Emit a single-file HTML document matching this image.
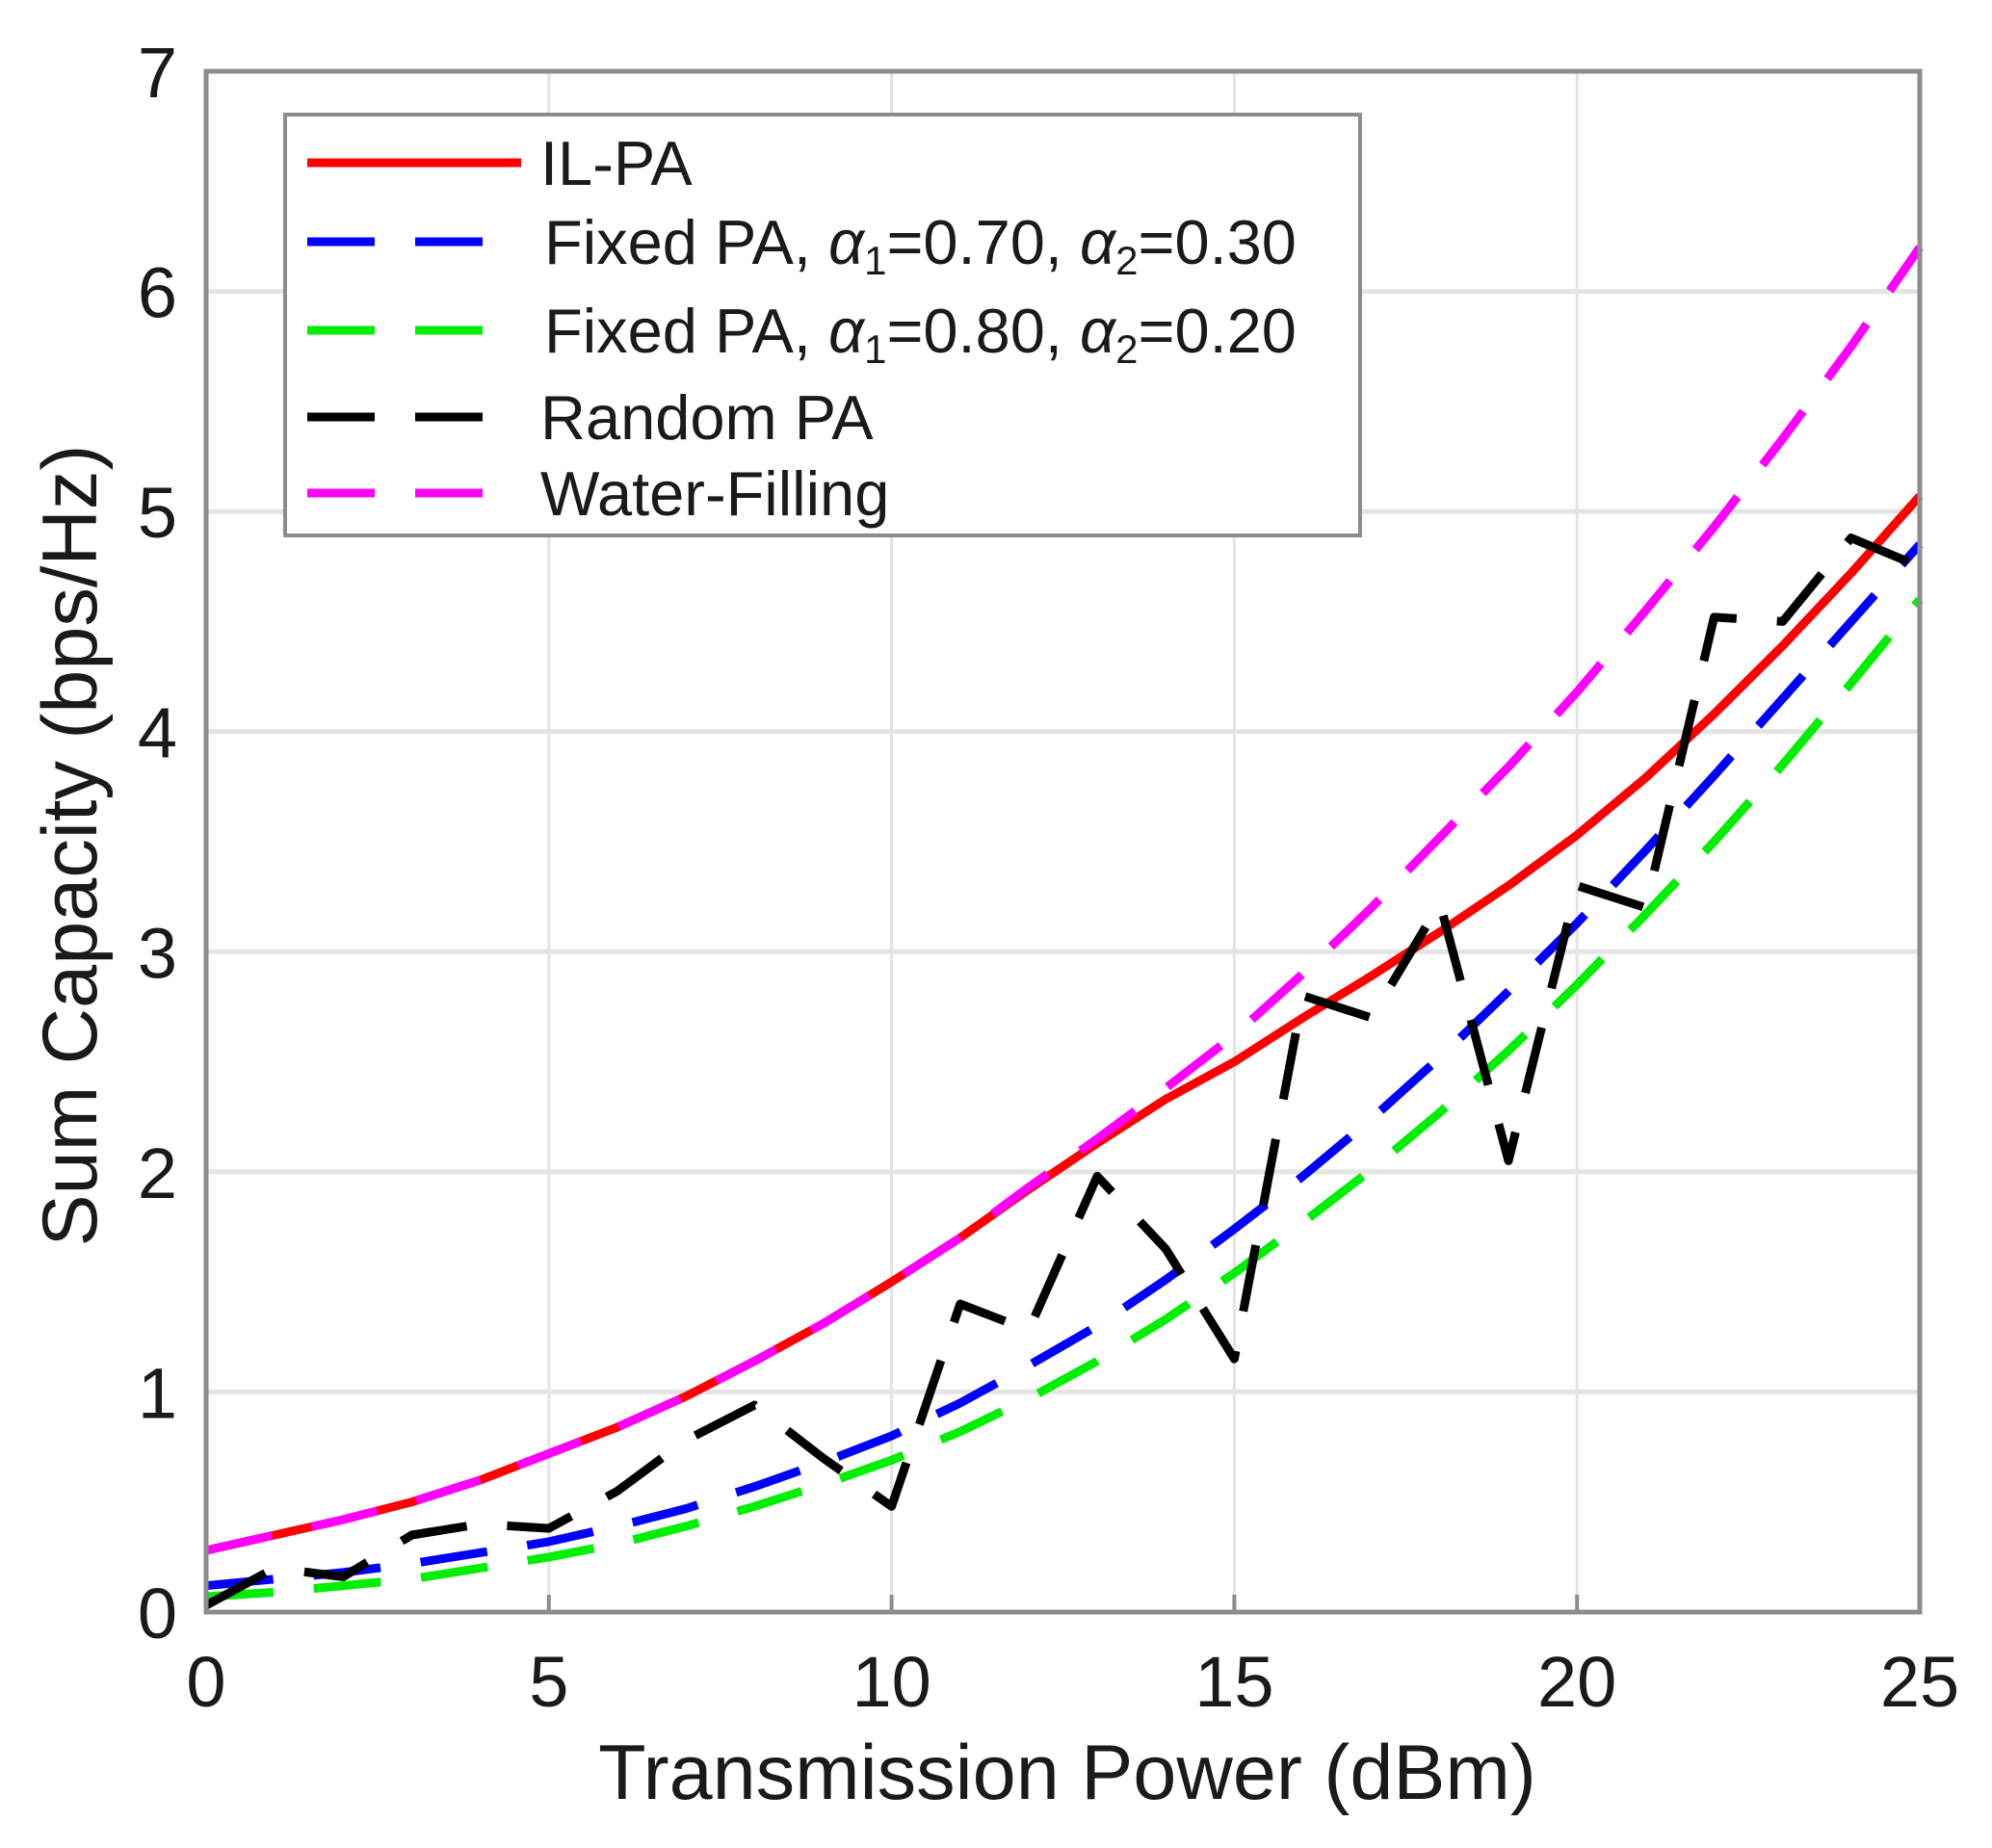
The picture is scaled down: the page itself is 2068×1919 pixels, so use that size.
<!DOCTYPE html>
<html><head><meta charset="utf-8"><style>
html,body{margin:0;padding:0;background:#fff}
svg{display:block}
text{font-family:"Liberation Sans",sans-serif;fill:#1a1a1a}
</style></head><body>
<svg id="chart" width="2068" height="1919" viewBox="0 0 2068 1919" xmlns="http://www.w3.org/2000/svg">
<g id="grid"></g>
<g id="series"></g>
<g id="axes"></g>
<text x="1108" y="1868" font-size="81" text-anchor="middle">Transmission Power (dBm)</text>
<text transform="translate(100,878) rotate(-90)" font-size="81" text-anchor="middle">Sum Capacity (bps/Hz)</text>
<g>
<rect x="296" y="119" width="1116" height="437" fill="#fff" stroke="#8c8c8c" stroke-width="4"/>
<g>
<line x1="319" y1="169" x2="541" y2="169" stroke="#ff0000" stroke-width="9"/>
<text x="561" y="192" font-size="65">IL-PA</text></g>
<g>
<line x1="319" y1="251" x2="501" y2="251" stroke="#0000ff" stroke-width="9" stroke-dasharray="70,42"/>
<text x="565" y="274" font-size="65">Fixed PA, <tspan font-style="italic">α</tspan><tspan font-size="42" dy="11">1</tspan><tspan dy="-11">=0.70, </tspan><tspan font-style="italic">α</tspan><tspan font-size="42" dy="11">2</tspan><tspan dy="-11">=0.30</tspan></text></g>
<g>
<line x1="319" y1="343" x2="501" y2="343" stroke="#00ee00" stroke-width="9" stroke-dasharray="70,42"/>
<text x="565" y="366" font-size="65">Fixed PA, <tspan font-style="italic">α</tspan><tspan font-size="42" dy="11">1</tspan><tspan dy="-11">=0.80, </tspan><tspan font-style="italic">α</tspan><tspan font-size="42" dy="11">2</tspan><tspan dy="-11">=0.20</tspan></text></g>
<g>
<line x1="319" y1="433" x2="501" y2="433" stroke="#000" stroke-width="9" stroke-dasharray="70,42"/>
<text x="561" y="456" font-size="65">Random PA</text></g>
<g>
<line x1="319" y1="512" x2="501" y2="512" stroke="#ff00ff" stroke-width="9" stroke-dasharray="70,42"/>
<text x="561" y="535" font-size="65">Water-Filling</text></g>
</g>
</svg>
<script>
const xVals=[0,1,2,3,4,5,6,7,8,9,10,11,12,13,14,15,16,17,18,19,20,21,22,23,24,25];
const ilpa=[0.28,0.35,0.42,0.50,0.60,0.72,0.84,0.98,1.14,1.31,1.50,1.70,1.92,2.13,2.33,2.50,2.70,2.89,3.09,3.30,3.53,3.79,4.08,4.39,4.72,5.07];
const fixed70=[0.12,0.15,0.18,0.22,0.27,0.32,0.39,0.47,0.57,0.68,0.80,0.95,1.12,1.30,1.51,1.74,1.98,2.24,2.52,2.82,3.13,3.46,3.80,4.15,4.50,4.85];
const fixed80=[0.07,0.09,0.12,0.15,0.20,0.25,0.31,0.39,0.48,0.58,0.69,0.82,0.97,1.14,1.33,1.54,1.77,2.01,2.27,2.55,2.85,3.17,3.50,3.85,4.22,4.60];
const randomPA=[0.03,0.20,0.16,0.35,0.40,0.38,0.55,0.78,0.94,0.70,0.48,1.40,1.28,1.98,1.65,1.15,2.80,2.70,3.22,2.05,3.30,3.20,4.52,4.50,4.88,4.75];
const waterFill=[0.28,0.35,0.42,0.50,0.60,0.72,0.84,0.98,1.14,1.31,1.50,1.70,1.93,2.15,2.38,2.62,2.90,3.20,3.52,3.84,4.18,4.55,4.93,5.33,5.75,6.20];
const xTicks=[0,5,10,15,20,25];
const yTicks=[0,1,2,3,4,5,6,7];
const L=214,R=1993,T=74,B=1674;
const sx=v=>L+(v-0)/25*(R-L);
const sy=v=>B-(v-0)/7*(B-T);
const NS="http://www.w3.org/2000/svg";
function mk(tag,attrs,parent){const e=document.createElementNS(NS,tag);for(const k in attrs)e.setAttribute(k,attrs[k]);parent.appendChild(e);return e;}
const grid=document.getElementById('grid'),axes=document.getElementById('axes'),ser=document.getElementById('series');
xTicks.forEach(t=>{
 const g=mk('line',{x1:sx(t),x2:sx(t),y1:T,y2:B,stroke:'#e4e4e4','stroke-width':3},grid);
 
 
 const tk=mk('line',{x1:sx(t),x2:sx(t),y1:B,y2:B-18,stroke:'#8c8c8c','stroke-width':4},axes);
 
 
 const lb=mk('text',{x:sx(t),y:1772,'font-size':74,'text-anchor':'middle'},axes);
 lb.textContent=t;
 
 
});
yTicks.forEach(t=>{
 const g=mk('line',{x1:L,x2:R,y1:sy(t),y2:sy(t),stroke:'#e4e4e4','stroke-width':5},grid);
 
 
 const lb=mk('text',{x:184,y:sy(t)+27,'font-size':74,'text-anchor':'end'},axes);
 lb.textContent=t;
 
 
});
const frame=mk('rect',{x:L,y:T,width:R-L,height:B-T,fill:'none',stroke:'#8c8c8c','stroke-width':5},axes);


function pts(arr){return arr.map((v,i)=>sx(xVals[i]).toFixed(1)+','+sy(v).toFixed(1)).join(' ');}
function line(arr,color,dash,name){
 const p=mk('polyline',{points:pts(arr),fill:'none',stroke:color,'stroke-width':9,'stroke-linejoin':'round'},ser);
 if(dash)p.setAttribute('stroke-dasharray',dash);
 
 
}
line(fixed80,'#00ee00','70,42','series-fixed-pa-080');
line(fixed70,'#0000ff','70,42','series-fixed-pa-070');
line(ilpa,'#ff0000',null,'series-il-pa');
line(waterFill,'#ff00ff','70,42','series-water-filling');
line(randomPA,'#000000','70,42','series-random-pa');
</script>
</body></html>
